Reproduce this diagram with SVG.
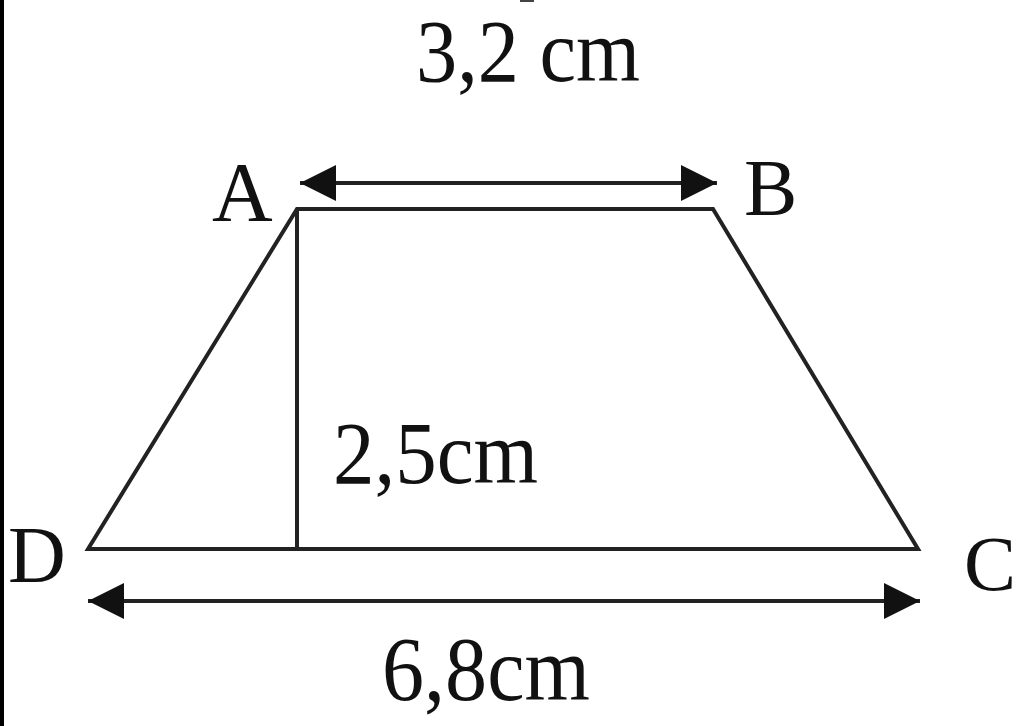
<svg xmlns="http://www.w3.org/2000/svg" width="1024" height="726" viewBox="0 0 1024 726">
<style>
.t{font-family:"Liberation Serif","Times New Roman",serif;fill:#111;}
.ln{stroke:#222;stroke-width:4;fill:none;}
</style>
<defs>
<marker id="ah" viewBox="0 0 10 10" refX="10" refY="5" markerWidth="36" markerHeight="36" markerUnits="userSpaceOnUse" orient="auto-start-reverse">
<path d="M0,0 L10,5 L0,10 z" fill="#111"/>
</marker>
</defs>
<rect width="1024" height="726" fill="#fff"/>
<rect x="0" y="0" width="4" height="726" fill="#000"/>
<line x1="520" y1="1" x2="534" y2="1" stroke="#444" stroke-width="2"/>
<g id="connectors">
<path id="trap" class="ln" d="M88,549 L297,209 L713,209 L918,549 Z" stroke-linejoin="miter"/>
<line class="ln" x1="297" y1="209" x2="297" y2="549"/>
<line class="ln" x1="300" y1="183" x2="717" y2="183" marker-start="url(#ah)" marker-end="url(#ah)"/>
<line class="ln" x1="88" y1="601" x2="920" y2="601" marker-start="url(#ah)" marker-end="url(#ah)"/>
</g>
<g id="A"><text class="t" x="212" y="221" font-size="84">A</text></g>
<g id="B"><text class="t" x="744" y="215" font-size="80">B</text></g>
<g id="D"><text class="t" x="8" y="582" font-size="80">D</text></g>
<g id="C"><text class="t" x="964" y="590" font-size="78">C</text></g>
<g id="lab-top"><text class="t" x="416" y="81" font-size="88" textLength="224" lengthAdjust="spacingAndGlyphs">3,2 cm</text></g>
<g id="lab-h"><text class="t" x="333" y="483" font-size="88" textLength="205" lengthAdjust="spacingAndGlyphs">2,5cm</text></g>
<g id="lab-bot"><text class="t" x="382" y="700" font-size="90" textLength="208" lengthAdjust="spacingAndGlyphs">6,8cm</text></g>
</svg>
